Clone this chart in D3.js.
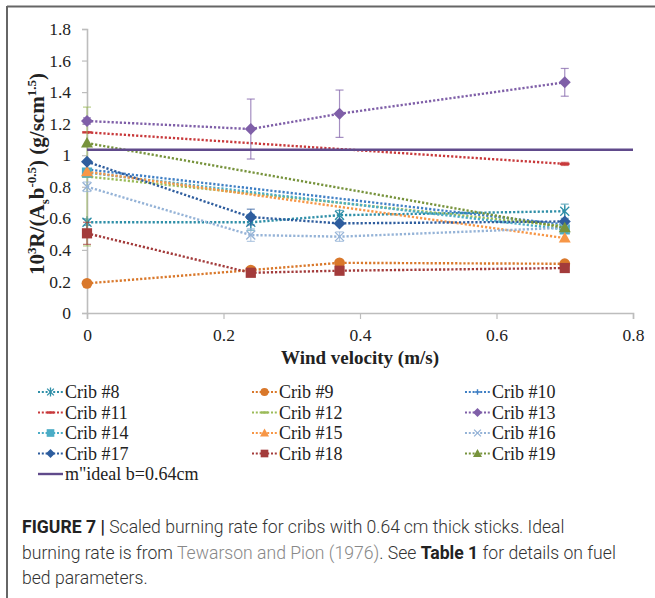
<!DOCTYPE html>
<html>
<head>
<meta charset="utf-8">
<script src="https://cdn.jsdelivr.net/npm/d3@7"></script>
<style>
  body { margin: 0; background: #fff; }
  svg text { font-family: "Liberation Serif", "Times New Roman", serif; fill: #222; }
  .caption { font-family: Roboto, "Liberation Sans", Arial, sans-serif; font-weight: 300; fill: #333; }
</style>
</head>
<body>
<svg id="chart" width="655" height="598"></svg>
<script>
// Wind velocities (m/s) at which cribs were burned
const windVelocity = [0, 0.24, 0.37, 0.7];

// Scaled burning rate, 10^3 R/(A_s b^-0.5); null = not measured at that velocity
const crib8  = [0.575, 0.575, 0.62, 0.645];
const crib9  = [0.188, 0.272, 0.318, 0.312];
const crib10 = [0.91, null, null, 0.56];
const crib11 = [1.145, null, null, 0.945];
const crib12 = [0.865, null, null, 0.55];
const crib13 = [1.217, 1.166, 1.263, 1.462];
const crib14 = [0.89, null, null, 0.53];
const crib15 = [0.895, null, null, 0.475];
const crib16 = [0.80, 0.494, 0.484, 0.54];
const crib17 = [0.959, 0.608, 0.568, 0.58];
const crib18 = [0.505, 0.255, 0.268, 0.285];
const crib19 = [1.077, null, null, 0.54];

// Error bar half-widths (same units); null = no bar
const err8  = [0.02, 0.05, 0.03, 0.045];
const err11 = [null, null, null, 0.01];
const err12 = [0.44, null, null, null];
const err13 = [0.02, 0.19, 0.15, 0.088];
const err16 = [0.03, 0.04, 0.03, null];
const err17 = [null, 0.05, null, null];
const err18 = [0.07, null, null, null];

// Ideal burning rate for b = 0.64 cm (Tewarson and Pion)
const idealRate = 1.035;
const idealRange = [0, 0.8];

const xTicks = [0, 0.2, 0.4, 0.6, 0.8];
const yTicks = [0, 0.2, 0.4, 0.6, 0.8, 1, 1.2, 1.4, 1.6, 1.8];

const series = [
  { name: "Crib #8",  values: crib8,  errors: err8,  color: "#2f8fa8", marker: "asterisk" },
  { name: "Crib #9",  values: crib9,  errors: null,  color: "#d9782b", marker: "circle" },
  { name: "Crib #10", values: crib10, errors: null,  color: "#3f7fc4", marker: "plus" },
  { name: "Crib #11", values: crib11, errors: err11, color: "#c8393b", marker: "dash" },
  { name: "Crib #12", values: crib12, errors: err12, color: "#9bbb59", marker: "dash" },
  { name: "Crib #13", values: crib13, errors: err13, color: "#7f5fa8", marker: "diamond" },
  { name: "Crib #14", values: crib14, errors: null,  color: "#4bacc6", marker: "square" },
  { name: "Crib #15", values: crib15, errors: null,  color: "#f79646", marker: "triangle" },
  { name: "Crib #16", values: crib16, errors: err16, color: "#95b3d7", marker: "cross" },
  { name: "Crib #17", values: crib17, errors: err17, color: "#2e5d9e", marker: "diamond" },
  { name: "Crib #18", values: crib18, errors: err18, color: "#a33b3b", marker: "square" },
  { name: "Crib #19", values: crib19, errors: null,  color: "#77933c", marker: "triangle" }
];
const idealColor = "#604a8b";
const idealLabel = "m\"ideal b=0.64cm";

const svg = d3.select("#chart");

// Figure frame (top and left rules)
svg.append("line").attr("x1", 7).attr("x2", 655).attr("y1", 6.5).attr("y2", 6.5)
  .attr("stroke", "#666").attr("stroke-width", 2);
svg.append("line").attr("x1", 7).attr("x2", 7).attr("y1", 6).attr("y2", 598)
  .attr("stroke", "#666").attr("stroke-width", 2);

const x = d3.scaleLinear().domain([0, 0.8]).range([87, 633]);
const y = d3.scaleLinear().domain([0, 1.8]).range([313, 29]);

// Axes
const axisColor = "#bdbdbd";
const gx = svg.append("g").attr("transform", `translate(0,${y(0)})`)
  .call(d3.axisBottom(x).tickValues(xTicks).tickSize(6).tickPadding(10)
    .tickFormat(d => d === 0 ? "0" : d3.format(".1f")(d)));
const gy = svg.append("g").attr("transform", `translate(${x(0)},0)`)
  .call(d3.axisLeft(y).tickValues(yTicks).tickSize(5).tickPadding(11)
    .tickFormat(d => (d === 0 || d === 1) ? String(d) : d3.format(".1f")(d)));
[gx, gy].forEach(g => {
  g.select(".domain").attr("stroke", axisColor).attr("stroke-width", 1.6);
  g.selectAll(".tick line").attr("stroke", axisColor).attr("stroke-width", 1.2);
  g.selectAll(".tick text").style("font-family", "Liberation Serif, serif")
    .style("font-size", "17.5px").attr("fill", "#222");
});

// Axis titles
svg.append("text").attr("x", 360).attr("y", 364).attr("text-anchor", "middle")
  .style("font-size", "19px").style("font-weight", "bold").text("Wind velocity (m/s)");

const yl = svg.append("text").attr("transform", "translate(44,174) rotate(-90)")
  .attr("text-anchor", "middle").style("font-weight", "bold");
const parts = [
  ["10", 0, 21], ["3", -8, 13], ["R/(A", 8, 21], ["s", 5, 13], ["b", -5, 21],
  ["-0.5", -8, 13], [") (g/scm", 8, 21], ["1.5", -8, 13], [")", 8, 21]
];
parts.forEach(([t, dy, fs]) => yl.append("tspan").attr("dy", dy).style("font-size", fs + "px").text(t));

// Marker drawing
function drawMarker(g, type, cx, cy, s, color) {
  const m = g.append("g").attr("transform", `translate(${cx},${cy})`);
  const stroke = (d, w) => m.append("path").attr("d", d).attr("fill", "none")
    .attr("stroke", color).attr("stroke-width", w || 1.3);
  if (type === "diamond") {
    m.append("path").attr("d", `M0,${-s}L${s},0L0,${s}L${-s},0Z`).attr("fill", color);
  } else if (type === "square") {
    const h = s * 0.85;
    m.append("rect").attr("x", -h).attr("y", -h).attr("width", 2 * h).attr("height", 2 * h).attr("fill", color);
  } else if (type === "triangle") {
    m.append("path").attr("d", `M0,${-s}L${s},${s * 0.75}L${-s},${s * 0.75}Z`).attr("fill", color);
  } else if (type === "circle") {
    m.append("circle").attr("r", s * 0.9).attr("fill", color);
  } else if (type === "asterisk") {
    const a = s * 0.75;
    stroke(`M${-a},${-a}L${a},${a}M${-a},${a}L${a},${-a}M0,${-s}L0,${s}`);
  } else if (type === "cross") {
    const a = s * 0.75;
    stroke(`M${-a},${-a}L${a},${a}M${-a},${a}L${a},${-a}`);
  } else if (type === "plus") {
    stroke(`M${-s * 0.6},0L${s * 0.6},0M0,${-s * 0.6}L0,${s * 0.6}`, 1.4);
  } else if (type === "dash") {
    stroke(`M${-s * 0.8},0L${s * 0.8},0`, 2.4);
  }
}

const plot = svg.append("g");
const line = d3.line().x(d => x(d.v)).y(d => y(d.r));

series.forEach(s => {
  const pts = windVelocity.map((v, i) => ({ v, r: s.values[i], e: s.errors ? s.errors[i] : null }))
    .filter(p => p.r !== null);
  const g = plot.append("g");
  // error bars
  pts.filter(p => p.e !== null).forEach(p => {
    const eb = g.append("g").attr("stroke", s.color).attr("stroke-opacity", 0.7).attr("stroke-width", 1.2);
    eb.append("line").attr("x1", x(p.v)).attr("x2", x(p.v)).attr("y1", y(p.r + p.e)).attr("y2", y(p.r - p.e));
    [p.r + p.e, p.r - p.e].forEach(t => eb.append("line")
      .attr("x1", x(p.v) - 4).attr("x2", x(p.v) + 4).attr("y1", y(t)).attr("y2", y(t)));
  });
  g.append("path").datum(pts).attr("d", line).attr("fill", "none")
    .attr("stroke", s.color).attr("stroke-width", 2.4).attr("stroke-dasharray", "2.2,1.9");
  pts.forEach(p => drawMarker(g, s.marker, x(p.v), y(p.r), 6, s.color));
});

// Ideal burning rate line
plot.append("line").attr("x1", x(idealRange[0])).attr("x2", x(idealRange[1]))
  .attr("y1", y(idealRate)).attr("y2", y(idealRate))
  .attr("stroke", idealColor).attr("stroke-width", 2.6);

// Legend: three columns, last entry alone on a fifth row
const colX = [38, 252, 465];
const rowY = [392, 412.5, 433, 453.5, 474];
const legend = svg.append("g");
series.forEach((s, i) => {
  const cx = colX[i % 3], cy = rowY[Math.floor(i / 3)];
  legend.append("line").attr("x1", cx).attr("x2", cx + 25).attr("y1", cy).attr("y2", cy)
    .attr("stroke", s.color).attr("stroke-width", 2.2).attr("stroke-dasharray", "2,1.8");
  drawMarker(legend, s.marker, cx + 12.5, cy, 4.5, s.color);
  legend.append("text").attr("x", cx + 27).attr("y", cy).attr("dy", "0.35em")
    .style("font-size", "18px").text(s.name);
});
legend.append("line").attr("x1", colX[0]).attr("x2", colX[0] + 25).attr("y1", rowY[4]).attr("y2", rowY[4])
  .attr("stroke", idealColor).attr("stroke-width", 2.4);
legend.append("text").attr("x", colX[0] + 27).attr("y", rowY[4]).attr("dy", "0.35em")
  .style("font-size", "18px").text(idealLabel);

// Caption
const cap = svg.append("g").attr("class", "caption-block");
const capLines = [
  [["FIGURE 7 |", "b"], [" Scaled burning rate for cribs with 0.64\u2009cm thick sticks. Ideal", ""]],
  [["burning rate is from ", ""], ["Tewarson and Pion (1976)", "g"], [". See ", ""], ["Table 1", "b"], [" for details on fuel", ""]],
  [["bed parameters.", ""]]
];
const capY = [533, 559, 584];
capLines.forEach((segs, i) => {
  const t = cap.append("text").attr("class", "caption").attr("x", 22).attr("y", capY[i])
    .style("font-size", "17.6px");
  segs.forEach(([txt, st]) => {
    const sp = t.append("tspan").text(txt);
    if (st === "b") sp.style("font-weight", "bold").attr("fill", "#222");
    if (st === "g") sp.attr("fill", "#888");
  });
});
</script>
</body>
</html>
